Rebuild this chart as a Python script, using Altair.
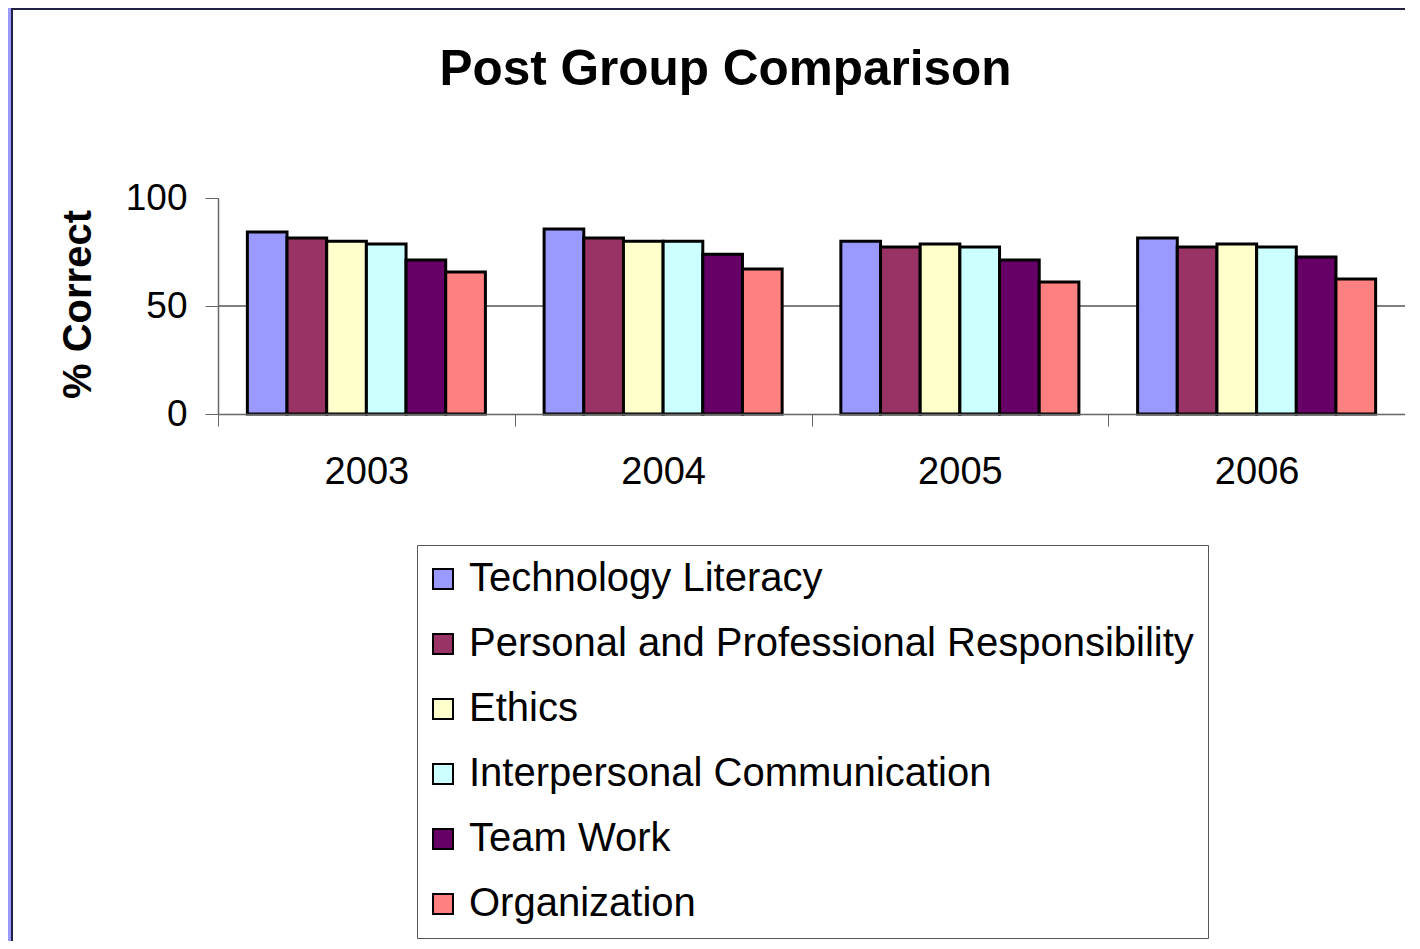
import altair as alt
import pandas as pd

years = ["2003", "2004", "2005", "2006"]
categories = [
    "Technology Literacy",
    "Personal and Professional Responsibility",
    "Ethics",
    "Interpersonal Communication",
    "Team Work",
    "Organization",
]
colors = ["#9999FF", "#993366", "#FFFFCC", "#CCFFFF", "#660066", "#FF8080"]

tech_literacy = [84.3, 85.6, 80.0, 81.5]
personal_prof = [81.5, 81.5, 77.3, 77.3]
ethics = [80.0, 80.0, 78.7, 78.7]
interpersonal = [78.7, 80.0, 77.3, 77.3]
team_work = [71.3, 74.0, 71.3, 72.7]
organization = [65.7, 67.1, 61.1, 62.5]

series = [tech_literacy, personal_prof, ethics, interpersonal, team_work, organization]
rows = []
for cat, vals in zip(categories, series):
    for y, v in zip(years, vals):
        rows.append({"Year": y, "Category": cat, "Value": v})
df = pd.DataFrame(rows)

FONT = "Liberation Sans"
W, H = 1187, 216

bg = alt.Chart(pd.DataFrame({"a": [0]})).mark_rect(
    fill="white", stroke="#222244", strokeWidth=2
).encode(
    x=alt.value(-206), x2=alt.value(W + 40),
    y=alt.value(-189), y2=alt.value(H + 600),
)

grid = alt.Chart(pd.DataFrame({"v": [50]})).mark_rule(color="black", strokeWidth=1).encode(
    y=alt.Y("v:Q", scale=alt.Scale(domain=[0, 100]))
)

bars = alt.Chart(df).mark_bar(stroke="black", strokeWidth=3, opacity=1).encode(
    x=alt.X(
        "Year:N",
        sort=years,
        scale=alt.Scale(paddingInner=0, paddingOuter=0),
        axis=alt.Axis(
            title=None, labelAngle=0, labelFont=FONT, labelFontSize=38,
            labelColor="black", labelPadding=27, tickBand="extent",
            tickSize=12, tickColor="#666666", domainColor="#666666",
            domainWidth=1.5, zindex=1,
        ),
    ),
    xOffset=alt.XOffset(
        "Category:N", sort=categories,
        scale=alt.Scale(paddingInner=0, paddingOuter=0.74),
    ),
    y=alt.Y(
        "Value:Q",
        scale=alt.Scale(domain=[0, 100]),
        axis=alt.Axis(
            title="% Correct", values=[0, 50, 100], grid=False,
            labelFont=FONT, labelFontSize=37, labelColor="black",
            labelPadding=18, tickSize=13, tickColor="#666666",
            domainColor="#666666", domainWidth=1.5,
            titleFont=FONT, titleFontSize=40, titleFontWeight="bold",
            titleColor="black", titleAngle=270, titleX=-140, titleY=106,
            titleAlign="center", titleBaseline="middle", zindex=1,
        ),
    ),
    color=alt.Color(
        "Category:N",
        sort=categories,
        scale=alt.Scale(domain=categories, range=colors),
        legend=alt.Legend(
            title=None, orient="none", legendX=199, legendY=347,
            direction="vertical", labelFont=FONT, labelFontSize=40,
            labelColor="black", labelOffset=6, labelLimit=1000,
            symbolType="square", symbolSize=400, symbolStrokeColor="black",
            symbolStrokeWidth=2, symbolOpacity=1, symbolOffset=-8,
            rowPadding=25, strokeColor="#555555", padding=14,
            fillColor="white", zindex=1,
        ),
    ),
)

chart = alt.layer(bg, grid, bars).properties(
    width=W,
    height=H,
    padding={"left": 210, "top": 190, "right": 0, "bottom": 527},
    autosize=alt.AutoSizeParams(type="none"),
    background="#9999FF",
    title=alt.TitleParams(
        "Post Group Comparison", font=FONT, fontSize=49.5, fontWeight="bold",
        color="black", anchor="middle", frame="group", dx=-86, offset=-87,
        zindex=1,
    ),
).configure_view(stroke=None)

chart.save("out.html", embed_options={"renderer": "svg", "actions": False})
